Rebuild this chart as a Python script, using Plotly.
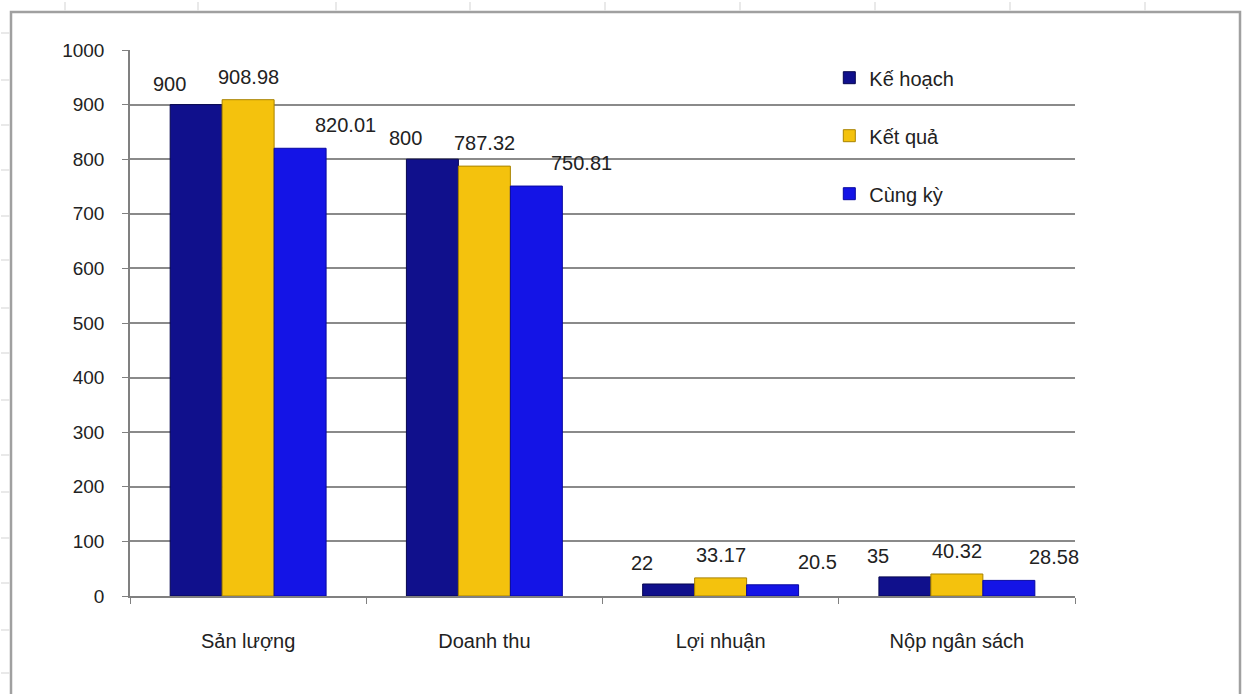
import plotly.graph_objects as go

categories = ["Sản lượng", "Doanh thu", "Lợi nhuận", "Nộp ngân sách"]
ke_hoach = [900, 800, 22, 35]
ket_qua = [908.98, 787.32, 33.17, 40.32]
cung_ky = [820.01, 750.81, 20.5, 28.58]
series_names = ["Kế hoạch", "Kết quả", "Cùng kỳ"]
colors = ["#10108c", "#f4c20d", "#1414e6"]
line_colors = ["#06064f", "#a88300", "#0808a0"]
label_xshift = [-27, 0, 45]
label_yshift = [8, 10, 10]

W, H = 1242, 694
L, R, T, B = 130, 167, 50, 98
pw, ph = W - L - R, H - T - B

def px(x):
    return (x - L) / pw

def py(y):
    return (H - B - y) / ph

fig = go.Figure()
annotations = []
for i, (name, vals, c, lc) in enumerate(zip(series_names, [ke_hoach, ket_qua, cung_ky], colors, line_colors)):
    fig.add_trace(go.Bar(
        x=categories, y=vals, name=name, legendgroup=name,
        marker=dict(color=c, line=dict(color=lc, width=1)),
        offsetgroup=str(i),
    ))

n = len(series_names)
group_w = 1 - 0.34
for i, vals in enumerate([ke_hoach, ket_qua, cung_ky]):
    for j, v in enumerate(vals):
        off = -group_w / 2 + group_w / n * (i + 0.5)
        annotations.append(dict(
            x=j + off, y=v, xref="x", yref="y", text=f"{v:g}", showarrow=False,
            xanchor="center", yanchor="bottom", xshift=label_xshift[i], yshift=label_yshift[i],
            font=dict(size=20, color="#222222", family="Liberation Sans, Arial"),
        ))

shapes = [
    dict(type="rect", xref="paper", yref="paper",
         x0=px(11), x1=px(1240), y0=py(720), y1=py(12),
         line=dict(color="#a0a0a0", width=2.5), fillcolor="rgba(0,0,0,0)", layer="below"),
]
for xv in [65, 198, 336, 470, 605, 740, 875, 1010, 1145]:
    shapes.append(dict(type="line", xref="paper", yref="paper", x0=px(xv), x1=px(xv), y0=py(2), y1=py(11),
                       line=dict(color="#e2e2e2", width=1.5), layer="below"))
for yv in [33, 80, 125, 170, 216, 260, 308, 353, 400, 455, 492, 538, 583, 630, 673]:
    shapes.append(dict(type="line", xref="paper", yref="paper", x0=px(1), x1=px(10), y0=py(yv), y1=py(yv),
                       line=dict(color="#e2e2e2", width=1.5), layer="below"))

fig.update_layout(
    width=W, height=H,
    margin=dict(l=L, r=R, t=T, b=B),
    paper_bgcolor="white", plot_bgcolor="white",
    barmode="group", bargap=0.34, bargroupgap=0,
    font=dict(family="Liberation Sans, Arial", size=19, color="#222222"),
    legend=dict(x=0.74, y=0.985, xanchor="left", yanchor="top",
                font=dict(size=20, color="#222222"),
                tracegroupgap=29, bgcolor="rgba(0,0,0,0)", traceorder="grouped"),
    showlegend=True,
    xaxis=dict(type="category", showline=True, linecolor="#808080", linewidth=1.5,
               ticks="outside", tickson="boundaries", ticklen=6, tickcolor="#808080",
               tickfont=dict(size=20), showgrid=False, ticklabelstandoff=26,
               range=[-0.5, 3.5]),
    yaxis=dict(range=[0, 1000], dtick=100, showline=True, linecolor="#808080", linewidth=1.5,
               ticks="outside", ticklen=6, tickcolor="#808080",
               showgrid=True, gridcolor="#8a8a8a", gridwidth=1.5,
               tickfont=dict(size=19), zeroline=False, ticklabelstandoff=14),
    shapes=shapes,
    annotations=annotations,
)

fig.write_html("out.html")
